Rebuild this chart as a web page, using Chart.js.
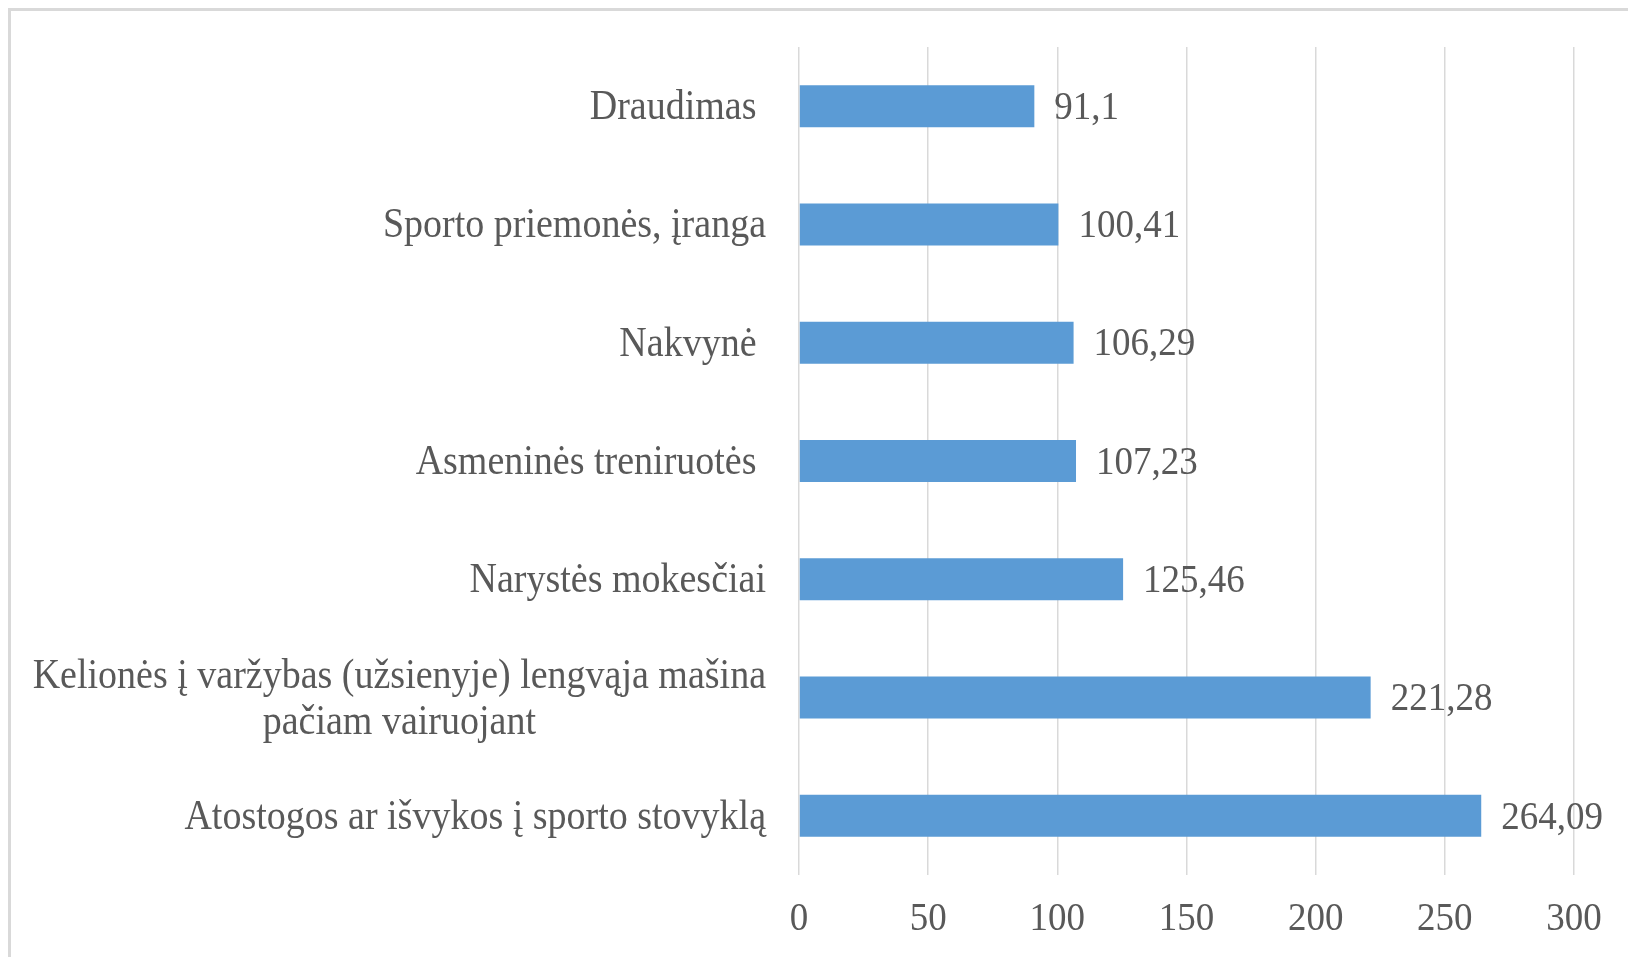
<!DOCTYPE html>
<html>
<head>
<meta charset="utf-8">
<script src="https://cdn.jsdelivr.net/npm/chart.js@4"></script>
<style>
  html, body { margin: 0; padding: 0; background: #fff; overflow: hidden; }
  #wrap { position: relative; width: 1628px; height: 957px; }
  #frame { position: absolute; left: 8px; top: 8px; width: 1640px; height: 970px;
           border-left: 3px solid #d9d9d9; border-top: 3px solid #d9d9d9; }
  canvas { position: absolute; left: 0; top: 0; }
</style>
</head>
<body>
<div id="wrap">
  <div id="frame"></div>
  <canvas id="barChart"></canvas>
</div>
<script>
const categories = [
  "Draudimas ",
  "Sporto priemonės, įranga",
  "Nakvynė ",
  "Asmeninės treniruotės ",
  "Narystės mokesčiai",
  ["Kelionės į varžybas (užsienyje) lengvąja mašina", "pačiam vairuojant"],
  "Atostogos ar išvykos į sporto stovyklą",
];
const values = [91.1, 100.41, 106.29, 107.23, 125.46, 221.28, 264.09];
const xTicks = [0, 50, 100, 150, 200, 250, 300];

const textColor = "#595959";
const fontFamily = "'Liberation Serif', 'Times New Roman', serif";
const stretch = 1.1; // the original text is a bit taller than normal

function drawText(ctx, text, x, y) {
  ctx.save();
  ctx.translate(x, y);
  ctx.scale(1, stretch);
  ctx.fillText(text, 0, 0);
  ctx.restore();
}

// category labels: right aligned, multi-line ones centred on their own block
const categoryLabels = {
  id: "categoryLabels",
  afterDraw(chart) {
    const ctx = chart.ctx;
    const yScale = chart.scales.y;
    const right = chart.chartArea.left - 33;
    ctx.save();
    ctx.font = "38px " + fontFamily;
    ctx.fillStyle = textColor;
    ctx.textAlign = "center";
    ctx.textBaseline = "middle";
    const lineH = 46;
    categories.forEach((cat, i) => {
      const lines = Array.isArray(cat) ? cat : [cat];
      const maxW = Math.max(...lines.map((l) => ctx.measureText(l).width));
      const cx = right - maxW / 2;
      const y0 = yScale.getPixelForTick(i) + 2 - ((lines.length - 1) * lineH) / 2;
      lines.forEach((l, j) => drawText(ctx, l, cx, y0 + j * lineH));
    });

    // x tick labels
    const xScale = chart.scales.x;
    ctx.font = "37px " + fontFamily;
    xTicks.forEach((v) => {
      drawText(ctx, String(v), xScale.getPixelForValue(v), chart.chartArea.bottom + 44);
    });
    ctx.restore();
  },
};

const valueLabels = {
  id: "valueLabels",
  afterDatasetsDraw(chart) {
    const ctx = chart.ctx;
    const meta = chart.getDatasetMeta(0);
    ctx.save();
    ctx.font = "37px " + fontFamily;
    ctx.fillStyle = textColor;
    ctx.textAlign = "left";
    ctx.textBaseline = "middle";
    meta.data.forEach((bar, i) => {
      drawText(ctx, String(values[i]).replace(".", ","), bar.x + 20, bar.y + 2);
    });
    ctx.restore();
  },
};

new Chart(document.getElementById("barChart"), {
  type: "bar",
  data: {
    labels: categories,
    datasets: [
      {
        data: values,
        backgroundColor: "#5b9bd5",
        borderWidth: 0,
        categoryPercentage: 1,
        barPercentage: 0.355,
      },
    ],
  },
  options: {
    indexAxis: "y",
    responsive: true,
    maintainAspectRatio: false,
    animation: false,
    layout: { padding: { left: 0, right: 54, top: 47, bottom: 0 } },
    plugins: { legend: { display: false }, tooltip: { enabled: false } },
    scales: {
      x: {
        min: 0,
        max: 300,
        afterBuildTicks: (s) => { s.ticks = xTicks.map((v) => ({ value: v })); },
        afterFit: (s) => { s.height = 82; },
        grid: { color: "#d9d9d9", lineWidth: 1.5, drawTicks: false },
        border: { display: false },
        ticks: { display: false },
      },
      y: {
        afterFit: (s) => { s.width = 799; },
        grid: { display: false },
        border: { display: false },
        ticks: { display: false },
      },
    },
  },
  plugins: [categoryLabels, valueLabels],
});
</script>
</body>
</html>
